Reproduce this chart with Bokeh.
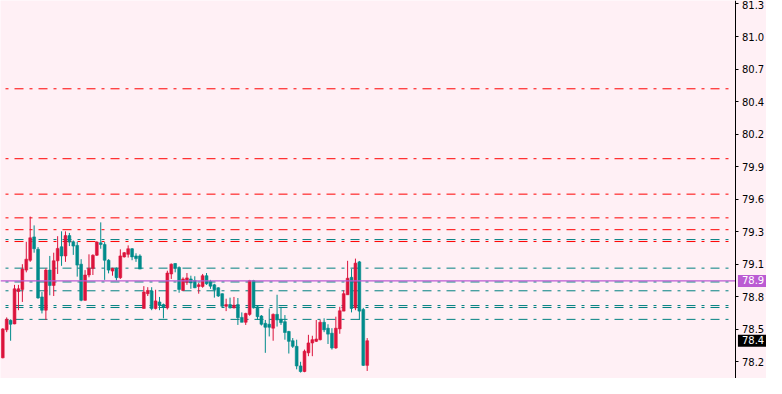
import numpy as np
from bokeh.plotting import figure
from bokeh.models import Range1d, FixedTicker, Label, ColumnDataSource
from bokeh.embed import file_html
from bokeh.resources import INLINE

# ---- data ----
opens = [78.274, 78.515, 78.597, 78.566, 78.846, 78.863, 79.029, 79.114, 79.315, 79.208,
         78.798, 78.684, 79.029, 78.897, 79.109, 79.230, 79.151, 79.326, 79.273, 79.242,
         79.080, 78.769, 78.987, 79.044, 79.157, 79.264, 79.250, 79.114, 79.021, 79.044,
         78.964, 79.143, 79.165, 79.213, 79.151, 79.151, 78.699, 78.826, 78.849, 78.699,
         78.755, 78.732, 78.704, 78.996, 79.086, 79.052, 78.854, 78.925, 78.953, 78.939,
         78.888, 78.888, 78.981, 78.930, 78.902, 78.877, 78.826, 78.718, 78.732, 78.704,
         78.732, 78.622, 78.580, 78.648, 78.939, 78.713, 78.634, 78.571, 78.563, 78.529,
         78.648, 78.605, 78.585, 78.501, 78.421, 78.373, 78.204, 78.156, 78.317, 78.402,
         78.416, 78.430, 78.580, 78.529, 78.486, 78.359, 78.523, 78.676, 78.817, 78.967,
         78.704, 79.100, 78.690, 78.209]
highs = [78.529, 78.622, 78.605, 78.902, 78.902, 79.080, 79.273, 79.490, 79.414, 79.227,
         78.840, 79.044, 79.151, 79.179, 79.321, 79.363, 79.363, 79.349, 79.284, 79.273,
         79.123, 79.029, 79.165, 79.165, 79.278, 79.440, 79.270, 79.123, 79.049, 79.052,
         79.208, 79.185, 79.242, 79.219, 79.174, 79.165, 78.891, 78.882, 78.882, 78.860,
         78.798, 78.741, 79.024, 79.086, 79.089, 79.061, 78.967, 79.004, 78.981, 78.976,
         78.919, 78.996, 79.004, 78.945, 78.911, 78.882, 78.829, 78.783, 78.792, 78.798,
         78.789, 78.665, 78.662, 78.945, 78.945, 78.727, 78.642, 78.600, 78.699, 78.656,
         78.817, 78.713, 78.642, 78.506, 78.444, 78.430, 78.240, 78.345, 78.472, 78.464,
         78.600, 78.600, 78.614, 78.563, 78.529, 78.628, 78.713, 78.854, 79.109, 79.038,
         79.128, 79.108, 78.704, 78.444]
lows = [78.270, 78.495, 78.421, 78.563, 78.684, 78.755, 79.010, 79.100, 79.179, 78.783,
        78.656, 78.600, 78.812, 78.806, 78.996, 79.066, 79.100, 79.236, 79.160, 78.973,
        78.761, 78.765, 78.967, 78.987, 79.151, 79.213, 78.945, 79.001, 78.981, 78.939,
        78.953, 79.137, 79.137, 79.114, 79.100, 79.038, 78.699, 78.806, 78.684, 78.690,
        78.684, 78.614, 78.690, 78.953, 79.010, 78.834, 78.854, 78.902, 78.868, 78.874,
        78.826, 78.877, 78.902, 78.868, 78.792, 78.798, 78.713, 78.676, 78.699, 78.699,
        78.557, 78.580, 78.557, 78.636, 78.699, 78.600, 78.552, 78.317, 78.458, 78.421,
        78.543, 78.557, 78.430, 78.311, 78.359, 78.175, 78.147, 78.150, 78.288, 78.288,
        78.410, 78.424, 78.495, 78.393, 78.345, 78.351, 78.481, 78.676, 78.817, 78.665,
        78.684, 78.600, 78.204, 78.161]
closes = [78.523, 78.605, 78.563, 78.868, 78.868, 79.038, 79.123, 79.307, 79.213, 78.789,
          78.684, 79.029, 78.897, 79.109, 79.216, 79.151, 79.326, 79.270, 79.236, 79.072,
          78.769, 78.987, 79.044, 79.157, 79.270, 79.250, 79.114, 79.029, 79.044, 78.964,
          79.151, 79.179, 79.213, 79.143, 79.128, 79.038, 78.840, 78.854, 78.699, 78.764,
          78.727, 78.710, 79.004, 79.080, 79.046, 78.863, 78.953, 78.962, 78.919, 78.877,
          78.902, 78.981, 78.911, 78.891, 78.860, 78.806, 78.718, 78.732, 78.704, 78.727,
          78.619, 78.580, 78.656, 78.939, 78.704, 78.628, 78.563, 78.537, 78.537, 78.648,
          78.600, 78.577, 78.492, 78.416, 78.373, 78.204, 78.156, 78.331, 78.402, 78.430,
          78.436, 78.580, 78.515, 78.478, 78.359, 78.529, 78.679, 78.826, 78.959, 78.699,
          79.089, 78.676, 78.209, 78.421]

red_levels = [80.590, 79.988, 79.683, 79.479, 79.377, 79.275]
teal_levels = [79.292, 79.046, 78.927, 78.851, 78.724, 78.707, 78.605]
bid_level = 78.936

tick_values = [81.32, 81.04, 80.76, 80.48, 80.20, 79.92, 79.64, 79.36, 79.08, 78.80, 78.52, 78.24]
tick_labels = ["81.3", "81.0", "80.7", "80.4", "80.2", "79.9", "79.6", "79.3", "79.1", "78.8", "78.5", "78.2"]

# ---- styles / layout ----
BG = "#fff0f5"
UP = "#dc143c"
DOWN = "#008b8b"
PURPLE = "#bb5bd3"
FONT = "DejaVu Sans"
X_START, X_END = -0.58, 194.9   # whole canvas width in bar units
AXIS_X = 187.1                   # price scale sits here (labels must fit in the canvas)

o = np.array(opens); h = np.array(highs); l = np.array(lows); c = np.array(closes)
idx = np.arange(len(o))
colors = np.where(c >= o, UP, DOWN)
src = ColumnDataSource(dict(x=idx, h=h, l=l, top=np.maximum(o, c), bottom=np.minimum(o, c), color=colors))

p = figure(width=766, height=378, output_backend="svg", toolbar_location=None,
           x_range=Range1d(X_START, X_END), y_range=Range1d(78.096, 81.35),
           x_axis_location=None, y_axis_location="right",
           background_fill_color=BG, border_fill_color=BG, outline_line_color=None,
           min_border_left=0, min_border_top=0, min_border_bottom=0, min_border_right=0)
p.grid.visible = False

ax = p.yaxis[0]
ax.fixed_location = AXIS_X
ax.ticker = FixedTicker(ticks=tick_values)
ax.major_label_overrides = {v: t for v, t in zip(tick_values, tick_labels)}
ax.axis_line_color = "black"
ax.axis_line_width = 1
ax.major_tick_line_color = "black"
ax.major_tick_in = 0
ax.major_tick_out = 3
ax.minor_tick_line_color = None
ax.major_label_standoff = 3
ax.major_label_text_font = FONT
ax.major_label_text_font_size = "10px"
ax.major_label_text_color = "black"

dash = dict(line_width=1, line_dash="9 6 3 6", line_dash_offset=10, level="underlay")
p.segment(x0=X_START, y0=red_levels, x1=AXIS_X - 1.5, y1=red_levels, line_color="#ff0000", **dash)
p.segment(x0=X_START, y0=teal_levels, x1=AXIS_X - 1.5, y1=teal_levels, line_color="#008080", **dash)

p.segment(x0="x", y0="h", x1="x", y1="l", line_color="color", line_width=1, source=src)
p.vbar(x="x", width=0.72, top="top", bottom="bottom", fill_color="color",
       line_color="color", line_width=0.6, source=src)

p.segment(x0=X_START, y0=bid_level, x1=AXIS_X, y1=bid_level, line_color=PURPLE, line_width=1.2)

label_kw = dict(text_color="white", text_font=FONT, text_font_size="10px", text_align="left",
                text_baseline="middle", x_offset=2)
if "padding" in Label.properties():
    label_kw["padding"] = (4, 40, 1, 3)
p.add_layout(Label(x=AXIS_X, y=bid_level, text=f"{bid_level:.1f}",
                   background_fill_color=PURPLE, **label_kw))
p.add_layout(Label(x=AXIS_X, y=closes[-1], text=f"{closes[-1]:.1f}",
                   background_fill_color="black", **label_kw))

open("out.html", "w").write(file_html(p, INLINE))
